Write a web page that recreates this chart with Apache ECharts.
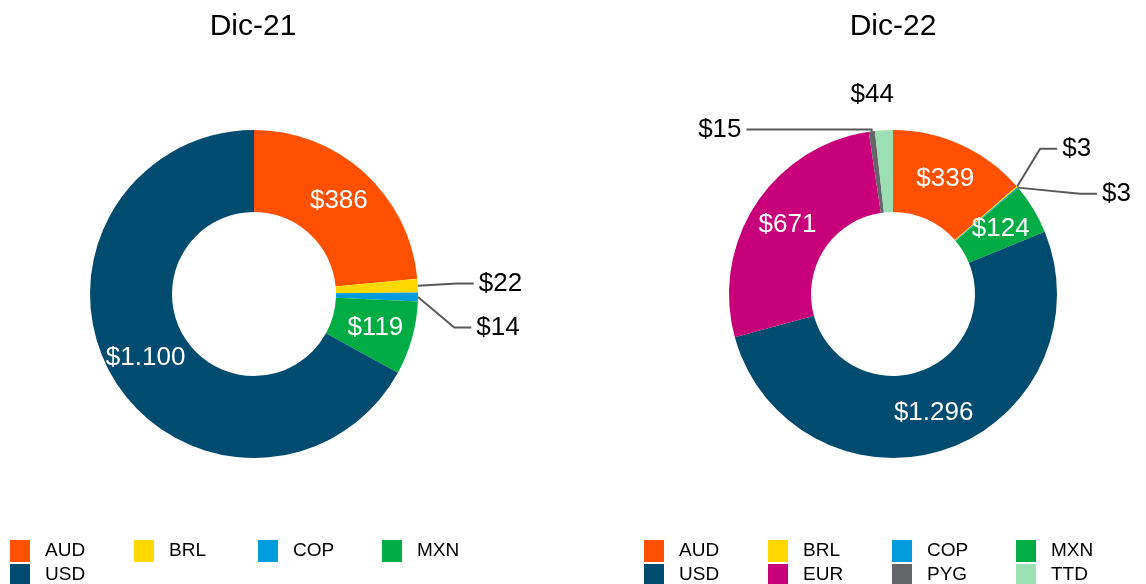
<!DOCTYPE html>
<html>
<head>
<meta charset="utf-8">
<script src="https://cdn.jsdelivr.net/npm/echarts@6/dist/echarts.min.js"></script>
<style>
  html, body { margin: 0; padding: 0; background: #fff; }
  #chart { width: 1146px; height: 584px; }
</style>
</head>
<body>
<div id="chart"></div>
<script>
const titles = ['Dic-21', 'Dic-22']

const currencies21 = ['AUD', 'BRL', 'COP', 'MXN', 'USD']
const values21 = [386, 22, 14, 119, 1100]

const currencies22 = ['AUD', 'BRL', 'COP', 'MXN', 'USD', 'EUR', 'PYG', 'TTD']
const values22 = [339, 3, 3, 124, 1296, 671, 15, 44]

const colorOf = {
  AUD: '#FF5000',
  BRL: '#FFD800',
  COP: '#009CDE',
  MXN: '#00AC43',
  USD: '#004C70',
  EUR: '#C8007A',
  PYG: '#646569',
  TTD: '#9BDFB3'
}

const FONT = 'Liberation Sans, Arial, sans-serif'

// leader line tweaks for the small slices
const lineOf = {
  'Dic-21': {
    BRL: { length: 44, length2: 17, lh: 42 },
    COP: { length: 44, length2: 17, lh: 42 }
  },
  'Dic-22': {
    BRL: { length: 58, length2: 17, lh: 43 },
    COP: { length: 58, length2: 17, lh: 43 },
    PYG: { length: 2, length2: 125, lh: 30 },
    TTD: { length: 35, length2: -17, lh: 30, hide: true }
  }
}

const money = v => '$' + String(v).replace(/\B(?=(\d{3})+(?!\d))/g, '.')

const buildData = (title, names, values) => {
  const total = values.reduce((a, b) => a + b, 0)
  return names.map((name, i) => {
    const small = values[i] / total < 0.03
    const item = {
      name,
      value: values[i],
      itemStyle: { color: colorOf[name] }
    }
    if (small) {
      const ln = lineOf[title][name] || { length: 30, length2: 15, lh: 30 }
      item.label = {
        position: 'outside',
        color: '#000',
        lineHeight: ln.lh
      }
      item.labelLine = {
        show: !ln.hide,
        length: ln.length,
        length2: ln.length2,
        lineStyle: { color: '#595959', width: 2 }
      }
    }
    return item
  })
}

const pie = (title, names, values, cx) => ({
  name: title,
  type: 'pie',
  center: [cx, 294],
  radius: [82, 164],
  startAngle: 90,
  clockwise: true,
  avoidLabelOverlap: true,
  label: {
    show: true,
    position: 'inside',
    color: '#fff',
    fontSize: 26,
    fontFamily: FONT,
    formatter: p => money(p.value)
  },
  labelLine: { show: false },
  emphasis: { disabled: true },
  data: buildData(title, names, values)
})

const legendBase = {
  top: 540,
  width: 500,
  padding: 0,
  icon: 'rect',
  itemWidth: 20,
  itemHeight: 22,
  itemGap: 2,
  selectedMode: false,
  textStyle: {
    fontSize: 19,
    fontFamily: FONT,
    color: '#000',
    width: 87,
    lineHeight: 22,
    padding: [0, 0, 0, 10]
  }
}

const titleStyle = { fontSize: 30, fontWeight: 'normal', color: '#000', fontFamily: FONT }

const chart = echarts.init(document.getElementById('chart'))

chart.setOption({
  animation: false,
  title: [
    { text: titles[0], left: 253, top: 12, padding: 0, textAlign: 'center', textStyle: titleStyle },
    { text: titles[1], left: 893, top: 12, padding: 0, textAlign: 'center', textStyle: titleStyle }
  ],
  legend: [
    Object.assign({}, legendBase, { left: 10, data: currencies21 }),
    Object.assign({}, legendBase, { left: 644, data: currencies22 })
  ],
  series: [
    pie(titles[0], currencies21, values21, 254),
    pie(titles[1], currencies22, values22, 893)
  ]
})
</script>
</body>
</html>
